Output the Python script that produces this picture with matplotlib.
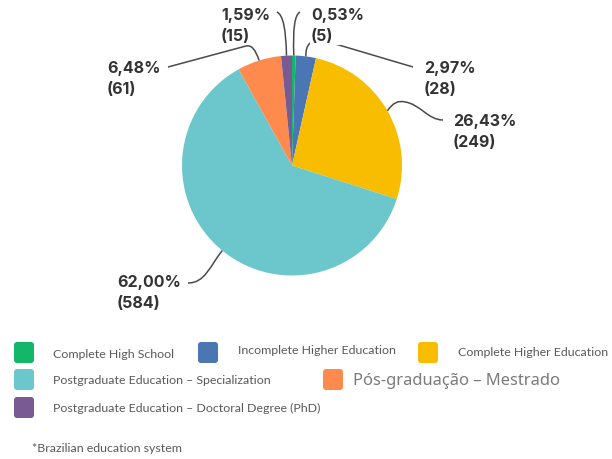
import matplotlib
matplotlib.use("Agg")
import matplotlib.pyplot as plt
from matplotlib.path import Path
from matplotlib.patches import PathPatch, FancyBboxPatch
import numpy as np

# ---- data ----
categories = ["Complete High School", "Incomplete Higher Education", "Complete Higher Education",
              "Postgraduate Education \u2013 Specialization", "P\u00f3s-gradua\u00e7\u00e3o \u2013 Mestrado",
              "Postgraduate Education \u2013 Doctoral Degree (PhD)"]
counts = [5, 28, 249, 584, 61, 15]
colors = ["#12b76a", "#4a77b4", "#f9bd00", "#6bc7cb", "#fe8a4d", "#7a5a92"]
footnote = "*Brazilian education system"

W, H = 612, 459
fig = plt.figure(figsize=(W / 100, H / 100), dpi=100)
ax = fig.add_axes([0, 0, 1, 1])
ax.set_xlim(0, W)
ax.set_ylim(0, H)
ax.set_aspect("equal")
ax.axis("off")

def Y(py):
    return H - py

cx, cy, R = 292, 165.5, 110
wedges, _ = ax.pie(counts, colors=colors, startangle=90, counterclock=False,
                   center=(cx, Y(cy)), radius=R, frame=True,
                   wedgeprops=dict(linewidth=0))
ax.set_xlim(0, W)
ax.set_ylim(0, H)
ax.axis("off")

total = sum(counts)
cum = np.cumsum([0] + counts)
mid_angles = [np.deg2rad(90 - 360 * (cum[i] + counts[i] / 2) / total) for i in range(len(counts))]

# leader line shapes (pixel coords), text positions
layout = {
    0: dict(path=[(Path.CURVE3, (292, 16)), (Path.CURVE3, (300, 12))], text=(311, 26)),
    1: dict(path=[(Path.CURVE3, (305, 39)), (Path.CURVE3, (322, 40)), (Path.LINETO, (413, 67))], text=(424, 79)),
    2: dict(path=[(Path.CURVE3, (395, 99)), (Path.CURVE3, (405, 102)),
                  (Path.CURVE4, (420, 104)), (Path.CURVE4, (428, 120)), (Path.CURVE4, (443, 120))], text=(453, 132)),
    3: dict(path=[(Path.CURVE4, (210, 266)), (Path.CURVE4, (205, 283)), (Path.CURVE4, (188, 283))], text=(117, 293)),
    4: dict(path=[(Path.CURVE3, (254, 44)), (Path.CURVE3, (246, 46)), (Path.LINETO, (168, 67))], text=(107, 79)),
    5: dict(path=[(Path.CURVE3, (286, 16)), (Path.CURVE3, (277, 12))], text=(221, 26)),
}

for i, n in enumerate(counts):
    a = mid_angles[i]
    sx, sy = cx + R * np.cos(a), Y(cy) + R * np.sin(a)
    verts = [(sx, sy)]
    codes = [Path.MOVETO]
    for code, (px, py) in layout[i]["path"]:
        verts.append((px, Y(py)))
        codes.append(code)
    ax.add_patch(PathPatch(Path(verts, codes), fill=False, edgecolor="#4a4a4a", lw=1.1, zorder=3))
    pct = f"{100 * n / total:.2f}".replace(".", ",")
    tx, ty = layout[i]["text"]
    ax.text(tx, Y(ty), f"{pct}%\n({n})", ha="left", va="center", fontsize=11.5,
            fontweight="bold", family=["Inter", "DejaVu Sans"], color="#333333",
            linespacing=1.5, zorder=5,
            bbox=dict(boxstyle="square,pad=0.05", fc="white", ec="none") if i == 0 else None)

# ---- legend (manual) ----
sq = [(14, 342), (198, 342), (418, 342), (14, 369), (323, 369), (14, 397)]
txt = [(53, 354), (238, 351), (458, 353), (53, 381), (353, 381), (53, 408)]
for i, lab in enumerate(categories):
    x0, y0 = sq[i]
    ax.add_patch(FancyBboxPatch((x0 + 2, Y(y0 + 21) + 2), 16, 17,
                                boxstyle="round,pad=2,rounding_size=3",
                                fc=colors[i], ec="none"))
    tx, ty = txt[i]
    if i == 4:
        ax.text(tx, Y(ty), lab, ha="left", va="center", fontsize=11.9,
                family=["Noto Sans", "DejaVu Sans"], color="#7a7a7a")
    else:
        ax.text(tx, Y(ty), lab, ha="left", va="center", fontsize=8.9,
                family=["Lato", "DejaVu Sans"], color="#595959")

ax.text(32, Y(449), footnote, ha="left", va="center", fontsize=8.9,
        family=["Lato", "DejaVu Sans"], color="#595959")

fig.savefig("out.png", dpi=100, facecolor="white")
